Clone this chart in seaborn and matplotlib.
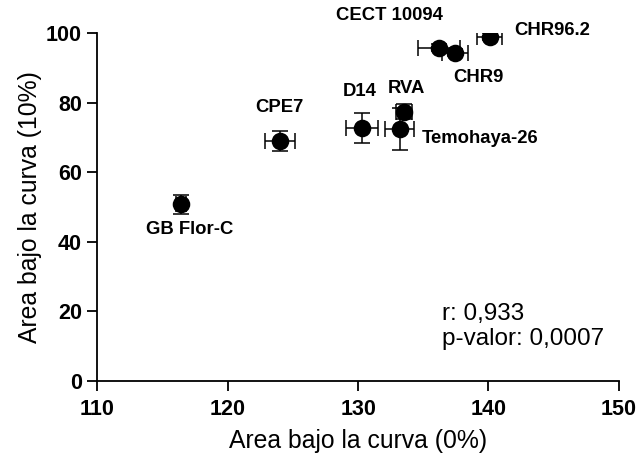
import matplotlib
matplotlib.use("Agg")
import matplotlib.pyplot as plt
import pandas as pd
import seaborn as sns

# values
strains = ["GB Flor-C", "CPE7", "D14", "RVA", "Temohaya-26", "CECT 10094", "CHR9", "CHR96.2"]
auc_0 = [116.4, 124.0, 130.3, 133.5, 133.2, 136.2, 137.4, 140.1]
auc_0_err = [0.4, 1.15, 1.2, 0.6, 1.1, 1.6, 1.0, 0.95]
auc_10 = [50.8, 69.0, 72.8, 77.4, 72.5, 95.9, 94.4, 99.0]
auc_10_err = [2.7, 2.9, 4.3, 2.2, 6.1, 1.0, 1.0, 1.0]

# label anchor points (data coords) for each strain name
label_x = [117.1, 124.0, 130.1, 133.7, 134.9, 132.4, 139.2, 142.0]
label_y = [43.4, 78.6, 83.2, 84.0, 69.8, 105.0, 87.2, 100.7]
label_ha = ["center", "center", "center", "center", "left", "center", "center", "left"]

df = pd.DataFrame({"strain": strains, "x": auc_0, "xerr": auc_0_err,
                   "y": auc_10, "yerr": auc_10_err})

sns.set_style("ticks")
plt.rcParams["font.family"] = ["Liberation Sans", "DejaVu Sans"]
plt.rcParams["text.color"] = "black"
plt.rcParams["axes.labelcolor"] = "black"

fig = plt.figure(figsize=(6.38, 4.61), dpi=100)
ax = fig.add_axes([0.1525, 0.1742, 0.8175, 0.7536])

ax.errorbar(df["x"], df["y"], xerr=df["xerr"], yerr=df["yerr"], fmt="none",
            ecolor="black", elinewidth=1.1, capsize=6, capthick=1.1, zorder=2)
sns.scatterplot(data=df, x="x", y="y", color="black", s=160, edgecolor="black",
                linewidth=0, ax=ax, zorder=3, legend=False)

for name, lx, ly, ha in zip(strains, label_x, label_y, label_ha):
    ax.text(lx, ly, name, ha=ha, va="center", fontsize=13.3, fontweight="bold",
            color="black", clip_on=False)

ax.text(136.4, 17.5, "r: 0,933", fontsize=17.5, ha="left", va="baseline")
ax.text(136.4, 10.3, "p-valor: 0,0007", fontsize=17.5, ha="left", va="baseline")

ax.set_xlim(110, 150)
ax.set_ylim(0, 100)
ax.set_xticks([110, 120, 130, 140, 150])
ax.set_yticks([0, 20, 40, 60, 80, 100])
ax.set_xlabel("Area bajo la curva (0%)", fontsize=17.8, labelpad=7)
ax.set_ylabel("Area bajo la curva (10%)", fontsize=17.8, labelpad=3)
ax.tick_params(axis="both", length=7, width=1.3, pad=4, labelsize=15.5, colors="black")
ax.tick_params(axis="x", pad=6)
for lab in ax.get_xticklabels() + ax.get_yticklabels():
    lab.set_fontweight("bold")
sns.despine(ax=ax)
for side in ["left", "bottom"]:
    ax.spines[side].set_linewidth(1.3)
    ax.spines[side].set_color("black")

fig.savefig("out.png", dpi=100)
